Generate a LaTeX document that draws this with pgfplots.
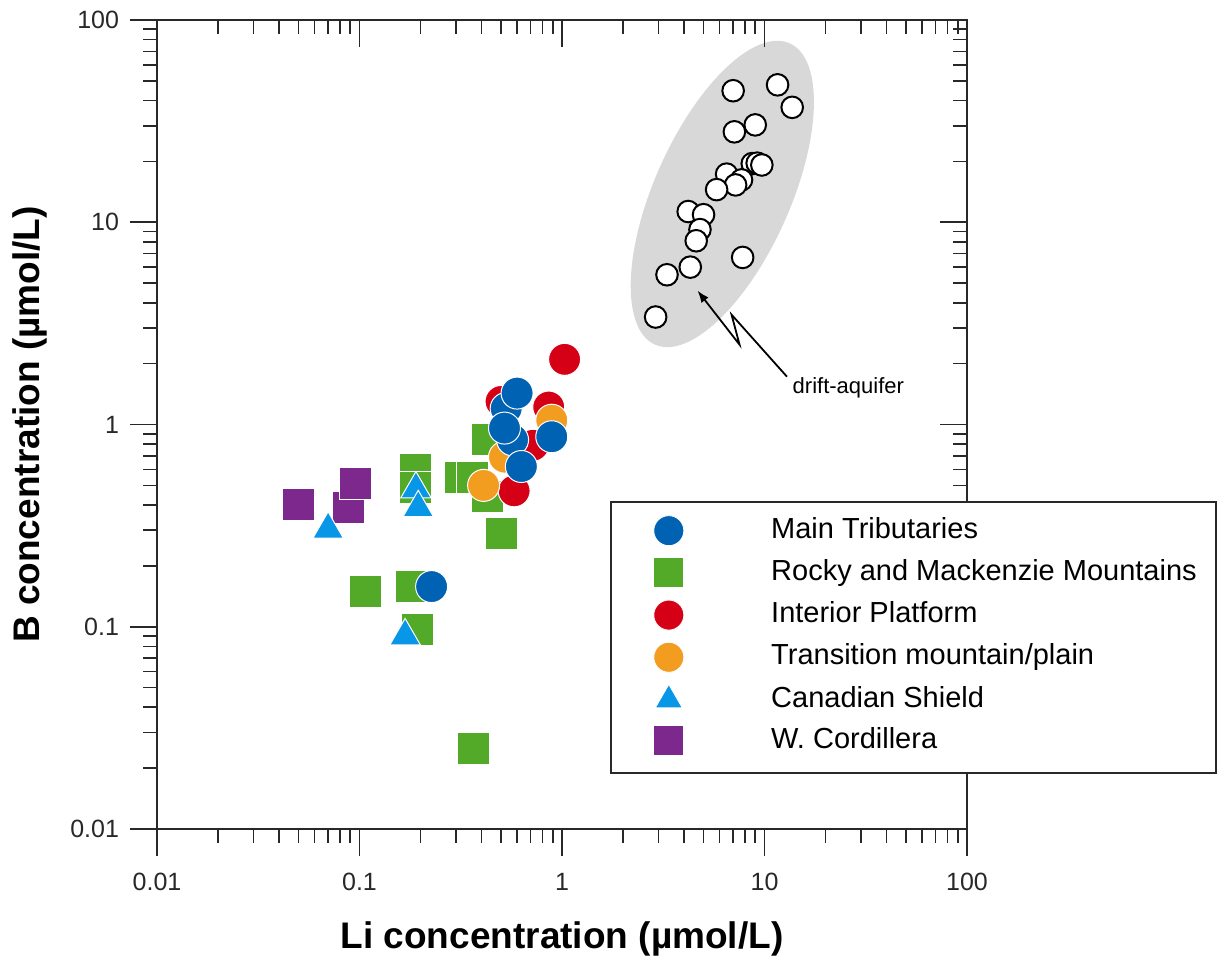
\documentclass[border=0pt]{standalone}
\usepackage{fontspec}
\setmainfont{Liberation Sans}
\usepackage{pgfplots}
\pgfplotsset{compat=1.18}
\usetikzlibrary{shapes.geometric,arrows.meta}

\definecolor{mainblue}{RGB}{0,98,178}
\definecolor{rockygreen}{RGB}{82,170,40}
\definecolor{intred}{RGB}{214,0,22}
\definecolor{transorange}{RGB}{242,156,32}
\definecolor{shieldblue}{RGB}{8,150,230}
\definecolor{cordpurple}{RGB}{125,40,140}
\definecolor{ellgray}{RGB}{216,216,216}
\definecolor{axisgray}{RGB}{40,40,40}

\begin{document}
\begin{tikzpicture}
\begin{axis}[
  scale only axis, width=405pt, height=404.5pt,
  at={(0pt,0pt)}, anchor=south west,
  xmode=log, ymode=log,
  xmin=0.01, xmax=100, ymin=0.01, ymax=100,
  xtick={0.01,0.1,1,10,100}, ytick={0.01,0.1,1,10,100},
  minor xtick={0.02,0.03,0.04,0.05,0.06,0.07,0.08,0.09,0.2,0.3,0.4,0.5,0.6,0.7,0.8,0.9,2,3,4,5,6,7,8,9,20,30,40,50,60,70,80,90},
  minor ytick={0.02,0.03,0.04,0.05,0.06,0.07,0.08,0.09,0.2,0.3,0.4,0.5,0.6,0.7,0.8,0.9,2,3,4,5,6,7,8,9,20,30,40,50,60,70,80,90},
  major tick length=13.5pt, minor tick length=7pt,
  every tick/.style={axisgray, line width=0.8pt},
  axis line style={axisgray, line width=1pt},
  xtick pos=left, ytick pos=left, tick align=outside,
  xticklabels={0.01,0.1,1,10,100},
  yticklabels={0.01,0.1,1,10,100},
  tick label style={font=\fontsize{12.5}{14}\selectfont, text=axisgray},
  xticklabel style={yshift=-5pt},
  yticklabel style={xshift=-2pt},
  xlabel={Li concentration (µmol/L)},
  ylabel={B concentration (µmol/L)},
  label style={font=\fontsize{18.5}{20}\selectfont\bfseries},
  xlabel shift=8.5pt, ylabel shift=4.5pt,
  clip=false,
]
% drift-aquifer envelope
\node[ellipse, fill=ellgray, minimum width=165pt, minimum height=68pt,
  inner sep=0pt, rotate=65.9] at (axis cs:6.19,13.8) {};

% drift-aquifer samples
\addplot[only marks, mark=*, mark size=5.4pt,
  mark options={draw=black, line width=1pt, fill=white}] coordinates {
  (7.0,44.7) (11.6,47.8) (13.7,37.0) (9.0,30.3) (7.1,28.0)
  (8.7,19.5) (9.2,19.6) (9.7,19.2) (6.5,17.3) (7.7,16.2)
  (7.2,15.3) (5.8,14.5) (4.2,11.3) (5.0,10.9) (4.8,9.2)
  (4.6,8.1) (7.8,6.7) (4.3,6.0) (3.3,5.5) (2.9,3.4)
};

% Rocky and Mackenzie Mountains
\addplot[only marks, mark=square*, mark size=8pt,
  mark options={draw=white, line width=0.5pt, fill=rockygreen}] coordinates {
  (0.43,0.84) (0.316,0.55) (0.361,0.55) (0.43,0.44) (0.50,0.29)
  (0.19,0.60) (0.19,0.49) (0.107,0.15) (0.18,0.158) (0.194,0.097)
  (0.366,0.025)
};
% W. Cordillera
\addplot[only marks, mark=square*, mark size=8pt,
  mark options={draw=white, line width=0.5pt, fill=cordpurple}] coordinates {
  (0.05,0.40) (0.088,0.39) (0.096,0.51)
};
% Interior Platform
\addplot[only marks, mark=*, mark size=8pt,
  mark options={draw=white, line width=0.5pt, fill=intred}] coordinates {
  (1.03,2.1) (0.5,1.3) (0.86,1.22) (0.72,0.79) (0.58,0.47)
};
% Transition mountain/plain
\addplot[only marks, mark=*, mark size=8pt,
  mark options={draw=white, line width=0.5pt, fill=transorange}] coordinates {
  (0.89,1.05) (0.52,0.69) (0.41,0.50)
};
% Canadian Shield
\addplot[only marks, mark=triangle*, mark size=8.8pt,
  mark options={draw=white, line width=0.5pt, fill=shieldblue}] coordinates {
  (0.19,0.479) (0.195,0.387) (0.07,0.303) (0.168,0.090)
};
% Main Tributaries
\addplot[only marks, mark=*, mark size=8pt,
  mark options={draw=white, line width=0.5pt, fill=mainblue}] coordinates {
  (0.53,1.2) (0.6,1.43) (0.57,0.84) (0.52,0.96) (0.89,0.87)
  (0.63,0.62) (0.227,0.158)
};

% annotation
\coordinate (ah) at (axis cs:4.67,4.59);
\draw[line width=0.9pt, -{Latex[length=6pt,width=4.5pt]}]
  ([shift={(44.7pt,-43pt)}]ah) -- ([shift={(17pt,-12pt)}]ah)
  -- ([shift={(21pt,-27pt)}]ah) -- (ah);
\node[font=\fontsize{11}{13}\selectfont] at ([shift={(75.4pt,-48.7pt)}]ah) {drift-aquifer};
\end{axis}

% inward ticks on top and right
\begin{axis}[
  scale only axis, width=405pt, height=404.5pt,
  at={(0pt,0pt)}, anchor=south west,
  xmode=log, ymode=log,
  xmin=0.01, xmax=100, ymin=0.01, ymax=100,
  xtick={0.01,0.1,1,10,100}, ytick={0.01,0.1,1,10,100},
  minor xtick={0.02,0.03,0.04,0.05,0.06,0.07,0.08,0.09,0.2,0.3,0.4,0.5,0.6,0.7,0.8,0.9,2,3,4,5,6,7,8,9,20,30,40,50,60,70,80,90},
  minor ytick={0.02,0.03,0.04,0.05,0.06,0.07,0.08,0.09,0.2,0.3,0.4,0.5,0.6,0.7,0.8,0.9,2,3,4,5,6,7,8,9,20,30,40,50,60,70,80,90},
  major tick length=13.5pt, minor tick length=7pt,
  every tick/.style={axisgray, line width=0.8pt},
  axis line style={axisgray, line width=1pt},
  xtick pos=right, ytick pos=right, tick align=inside,
  xticklabels={}, yticklabels={},
]
\addplot[draw=none] coordinates {(1,1)};
\end{axis}

% legend box, laid over the right spine
\begin{axis}[
  scale only axis, width=405pt, height=404.5pt,
  at={(0pt,0pt)}, anchor=south west,
  xmode=log, ymode=log,
  xmin=0.01, xmax=100, ymin=0.01, ymax=100,
  hide axis, clip=false,
  legend style={at={(0.6111,0.3878)}, anchor=north west, draw=none, fill=none,
    inner sep=0pt, row sep=6.1pt, font=\fontsize{14.5}{17}\selectfont,
    nodes={inner sep=0pt, text height=10.5pt, text depth=3pt}},
  legend cell align=left,
  legend image code/.code={\draw[#1] plot coordinates {(8pt,0pt)}; \path (0pt,0pt) (59pt,0pt);},
]
\filldraw[fill=white, draw=axisgray, line width=1pt]
  (rel axis cs:0.5605,0.0692) rectangle (rel axis cs:1.3074,0.4042);
\addlegendimage{only marks, mark=*, mark size=7.5pt, mark options={draw=white, fill=mainblue}}
\addlegendentry{Main Tributaries}
\addlegendimage{only marks, mark=square*, mark size=7.5pt, mark options={draw=white, fill=rockygreen}}
\addlegendentry{Rocky and Mackenzie Mountains}
\addlegendimage{only marks, mark=*, mark size=7.5pt, mark options={draw=white, fill=intred}}
\addlegendentry{Interior Platform}
\addlegendimage{only marks, mark=*, mark size=7.5pt, mark options={draw=white, fill=transorange}}
\addlegendentry{Transition mountain/plain}
\addlegendimage{only marks, mark=triangle*, mark size=7.8pt, mark options={draw=white, fill=shieldblue}}
\addlegendentry{Canadian Shield}
\addlegendimage{only marks, mark=square*, mark size=7.5pt, mark options={draw=white, fill=cordpurple}}
\addlegendentry{W. Cordillera}
\addplot[draw=none, forget plot] coordinates {(1,1)};
\end{axis}

\pgfresetboundingbox
\path (-78.5pt,-64.5pt) rectangle (530.5pt,414.5pt);
\end{tikzpicture}
\end{document}
